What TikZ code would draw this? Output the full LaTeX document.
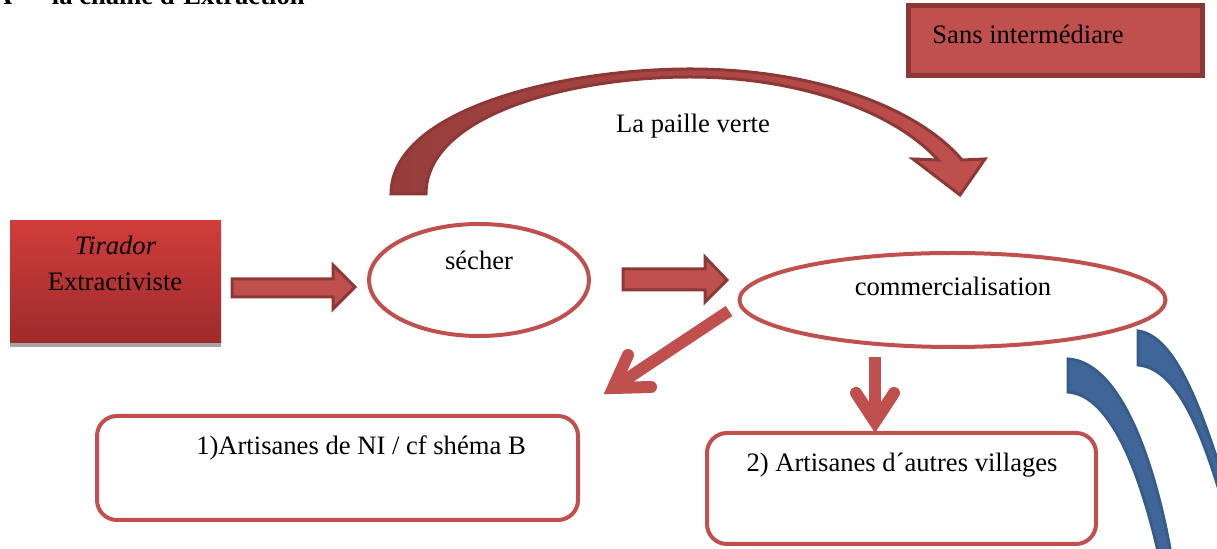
\documentclass[tikz,border=0pt]{standalone}
\usepackage{fontspec}
\setmainfont{Liberation Serif}
\usetikzlibrary{shapes.geometric}

\definecolor{redL}{RGB}{192,80,77}
\definecolor{redD}{RGB}{140,56,54}
\definecolor{redM}{RGB}{150,61,59}
\definecolor{tirTop}{RGB}{208,61,59}
\definecolor{tirBot}{RGB}{158,43,43}
\definecolor{blueF}{RGB}{64,102,153}
\definecolor{blueD}{RGB}{54,92,139}
\definecolor{shadowgray}{RGB}{166,166,166}

\tikzset{
	lbl/.style={inner sep=0pt, font=\fontsize{13.3}{16}\selectfont},
	oval/.style={ellipse, draw=redL, line width=2pt, inner sep=0pt},
	roundbox/.style={rectangle, rounded corners=10pt, draw=redL, line width=2pt, inner sep=0pt},
	barrow/.style={fill=redL, draw=redD, line width=1.5pt, line join=miter},
	chev/.style={draw=redL, line width=6pt},
	chevhead/.style={draw=redL, line width=6pt, line cap=round, line join=miter},
	bluearc/.style={fill=blueF, draw=blueD, line width=1.5pt}
}

\begin{document}
\begin{tikzpicture}[x=0.5pt,y=-0.5pt]
	\useasboundingbox (0,0) rectangle (1217,549);
	
	\node[lbl, font=\fontsize{13.3}{16}\selectfont\bfseries, anchor=base east] (titre) at (305,5) {A – \enspace la chaîne d´Extraction};
	
	% Tirador
	\fill[shadowgray] (10,343) rectangle (221,347);
	\node[rectangle, top color=tirTop, bottom color=tirBot, minimum width=105.5pt, minimum height=61pt, inner sep=0pt] (tirador) at (115.5,282) {};
	\node[lbl, anchor=base] (tiradorA) at (115.5,255) {\textit{Tirador}};
	\node[lbl, anchor=base] (tiradorB) at (115,291) {Extractiviste};
	
	\node[oval, minimum width=110pt, minimum height=56pt] (secher) at (479,280) {};
	\node[lbl, anchor=base] (secherTxt) at (479,270) {sécher};
	
	\node[oval, minimum width=213pt, minimum height=47pt] (comm) at (952.5,300) {};
	\node[lbl, anchor=base] (commTxt) at (953,296) {commercialisation};
	
	\node[rectangle, fill=redL, draw=redD, line width=2.5pt, minimum width=147pt, minimum height=35pt, inner sep=0pt] (sans) at (1055.5,40.5) {};
	\node[lbl, anchor=base west] (sansTxt) at (932,44) {Sans intermédiare};
	
	\node[roundbox, minimum width=240.5pt, minimum height=52pt] (artNI) at (337.5,468) {};
	\node[lbl, anchor=base] (artNITxt) at (361,455) {1)Artisanes de NI / cf shéma B};
	
	\node[roundbox, minimum width=194.5pt, minimum height=55.5pt] (artVil) at (901.5,488.5) {};
	\node[lbl, anchor=base] (artVilTxt) at (902,472) {2) Artisanes d´autres villages};
	
	% bloc arrows
	\draw[barrow] (232,279) -- (333,279) -- (333,265) -- (355,287) -- (333,309) -- (333,297) -- (232,297) -- cycle;
	\draw[barrow] (623,269) -- (705,269) -- (705,257) -- (727,280) -- (705,302) -- (705,290) -- (623,290) -- cycle;
	
	% La paille verte
	\draw[draw=redD, line width=1.5pt, line join=miter, left color=redM, right color=redL]
		(391,194) .. controls (391,110) and (560,69) .. (690,69)
		.. controls (820,69) and (920,110) .. (962,160)
		-- (985,159) -- (960,195) -- (913,159) -- (938,160)
		.. controls (895,112) and (800,77) .. (690,77)
		.. controls (570,77) and (426,115) .. (426,194) -- cycle;
	\node[lbl, anchor=base] (paille) at (693,133) {La paille verte};
	
	% vers les artisanes
	\coordinate (dA) at (729,311);
	\coordinate (dB) at (613,388);
	\draw[chev] (dA) -- (dB);
	\draw[chevhead] (628,355) -- (dB) -- (651,387);
	
	\coordinate (vA) at (875,357);
	\coordinate (vB) at (875,422);
	\draw[chev] (vA) -- (vB);
	\draw[chevhead] (856,393) -- (vB) -- (894,393);
	
	% blue
	\draw[bluearc] (1068,359) .. controls (1120,362) and (1155,460) .. (1172,560) -- (1160,560) .. controls (1140,470) and (1110,395) .. (1068,392) -- cycle;
	\draw[bluearc] (1138,331) .. controls (1178,336) and (1205,420) .. (1230,500) -- (1222,500) .. controls (1200,425) and (1175,368) .. (1138,365) -- cycle;
	
\end{tikzpicture}
\end{document}
